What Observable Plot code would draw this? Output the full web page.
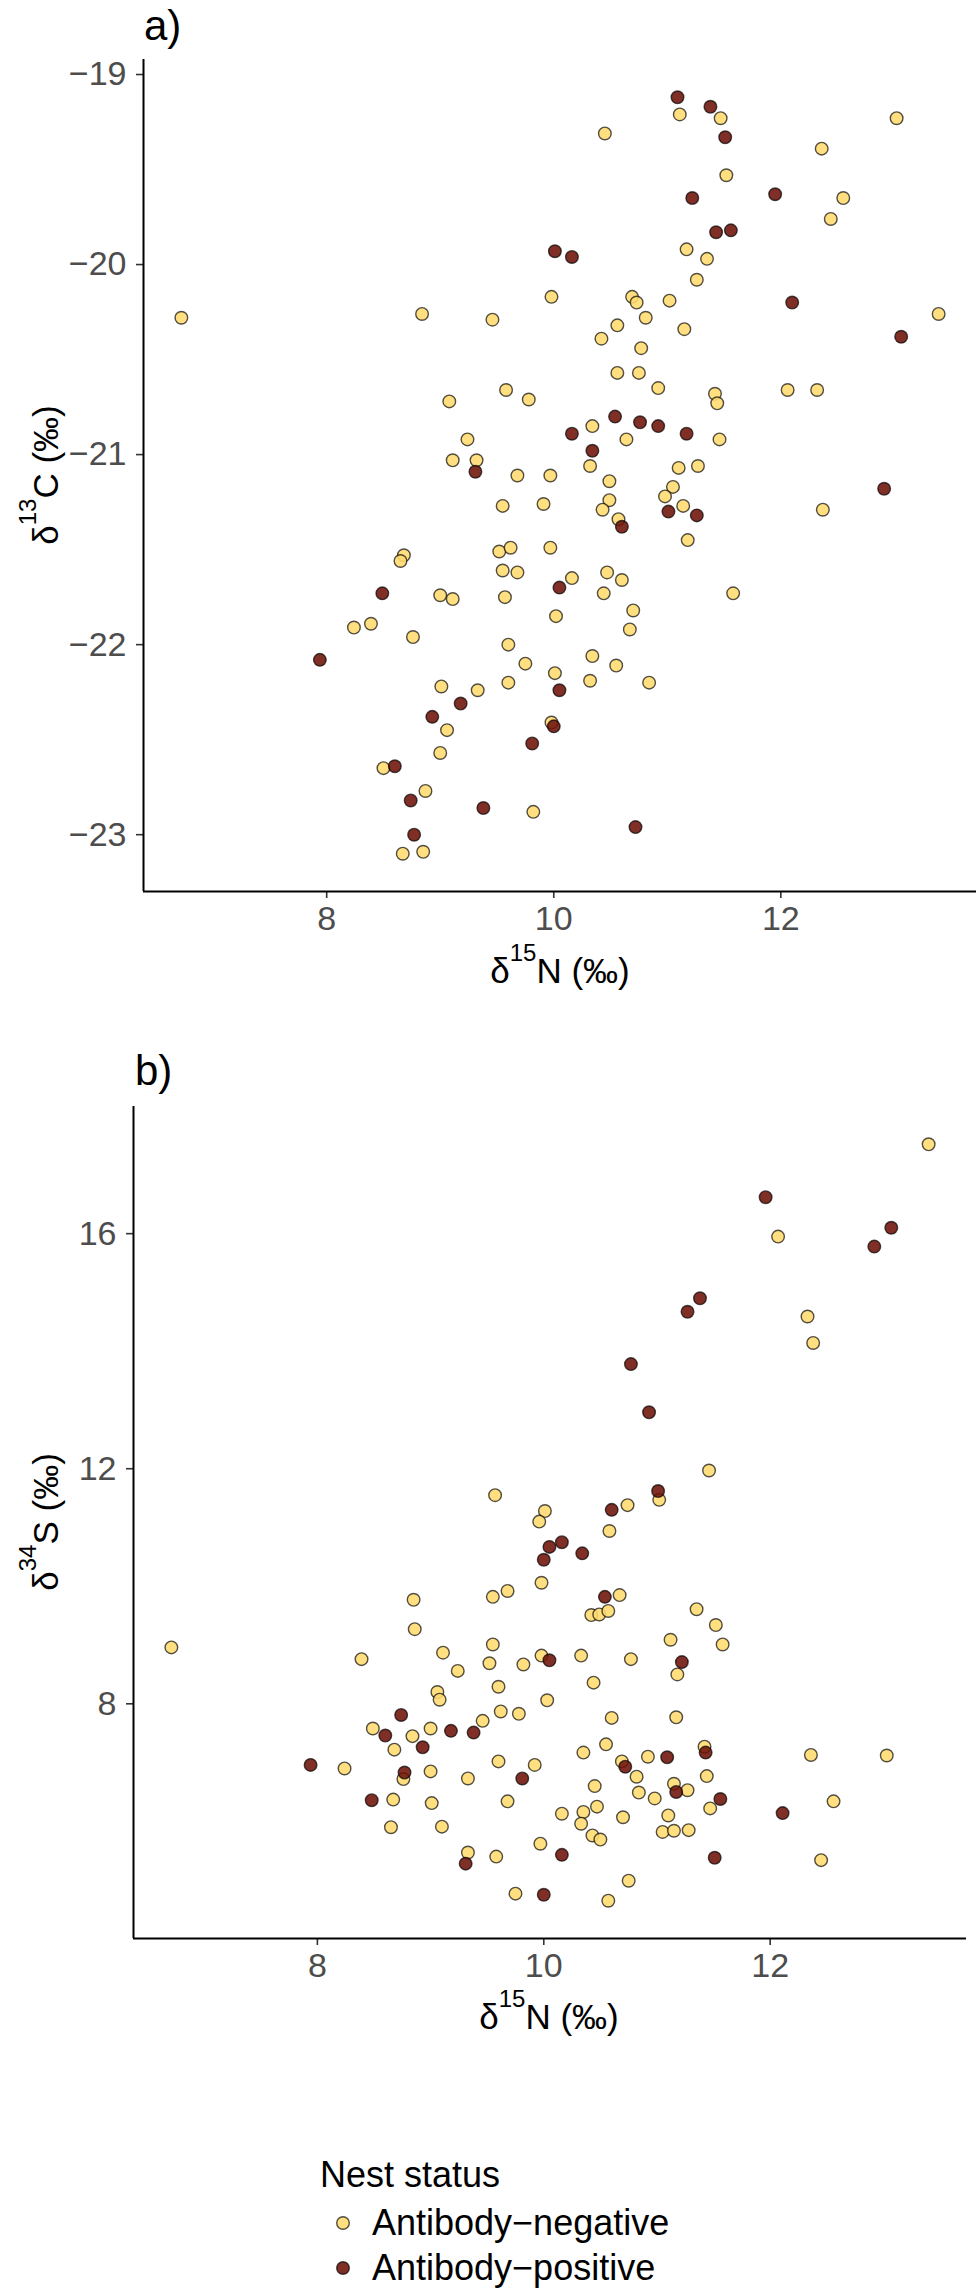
<!DOCTYPE html>
<html><head><meta charset="utf-8">
<script src="https://cdn.jsdelivr.net/npm/d3@7"></script>
<script src="https://cdn.jsdelivr.net/npm/@observablehq/plot@0.6"></script>
<style>
body{margin:0;background:#fff;}
#root{position:relative;width:979px;height:2292px;overflow:hidden;font-family:"Liberation Sans",Arial,sans-serif;}
#root svg{position:absolute;left:0;}
</style></head><body><div id="root"></div>
<script>
// ---- data ----
const statuses = ["Antibody−negative", "Antibody−positive"];
const statusColors = ["#FFDB6E", "#6E1208"];
const xTicks = [8, 10, 12];
const yTicksA = [-23, -22, -21, -20, -19];
const yTicksB = [8, 12, 16];

// panel a: [δ15N, δ13C]
const aNegative = [[6.72,-20.28],[8.84,-20.26],[9.46,-20.29],[9.98,-20.17],[9.58,-20.66],[9.78,-20.71],[9.08,-20.72],[9.24,-20.92],[9.11,-21.03],[9.32,-21.03],[9.68,-21.11],[9.97,-21.11],[9.55,-21.27],[9.91,-21.26],[8.68,-21.53],[8.65,-21.56],[9.52,-21.51],[9.62,-21.49],[9.97,-21.49],[9.55,-21.61],[9.68,-21.62],[9.00,-21.74],[9.11,-21.76],[9.57,-21.75],[10.02,-21.85],[8.24,-21.91],[8.39,-21.89],[8.76,-21.96],[9.60,-22.00],[9.75,-22.10],[10.01,-22.15],[9.60,-22.20],[9.01,-22.22],[9.33,-22.24],[9.06,-22.45],[9.98,-22.41],[9.00,-22.57],[8.50,-22.65],[8.87,-22.77],[9.82,-22.88],[8.67,-23.10],[8.85,-23.09],[11.11,-19.21],[11.47,-19.23],[13.02,-19.23],[10.45,-19.31],[12.36,-19.39],[11.52,-19.53],[12.55,-19.65],[12.44,-19.76],[11.17,-19.92],[11.35,-19.97],[11.26,-20.08],[10.69,-20.17],[10.73,-20.20],[11.02,-20.19],[13.39,-20.26],[10.81,-20.28],[10.56,-20.32],[10.42,-20.39],[11.15,-20.34],[10.77,-20.44],[10.56,-20.57],[10.75,-20.57],[10.92,-20.65],[11.42,-20.68],[11.44,-20.73],[12.06,-20.66],[12.32,-20.66],[10.34,-20.85],[10.64,-20.92],[11.46,-20.92],[10.32,-21.06],[11.10,-21.07],[11.27,-21.06],[10.49,-21.14],[11.05,-21.17],[10.98,-21.22],[11.14,-21.27],[10.49,-21.24],[10.43,-21.29],[10.57,-21.34],[12.37,-21.29],[11.18,-21.45],[10.16,-21.65],[10.47,-21.62],[10.60,-21.66],[10.44,-21.73],[11.58,-21.73],[10.70,-21.82],[10.67,-21.92],[10.34,-22.06],[10.55,-22.11],[10.32,-22.19],[10.84,-22.20]];
const aPositive = [[10.01,-19.93],[9.31,-21.09],[8.49,-21.73],[10.05,-21.70],[7.94,-22.08],[10.05,-22.24],[9.18,-22.31],[8.93,-22.38],[10.00,-22.43],[9.81,-22.52],[8.60,-22.64],[8.74,-22.82],[9.38,-22.86],[8.77,-23.00],[11.09,-19.12],[11.38,-19.17],[11.51,-19.33],[11.22,-19.65],[11.95,-19.63],[11.43,-19.83],[11.56,-19.82],[10.16,-19.96],[12.10,-20.20],[13.06,-20.38],[10.54,-20.80],[10.76,-20.83],[10.92,-20.85],[10.16,-20.89],[11.17,-20.89],[10.34,-20.98],[12.91,-21.18],[11.01,-21.30],[11.26,-21.32],[10.60,-21.38],[10.72,-22.96]];

// panel b: [δ15N, δ34S]
const bNegative = [[13.40,17.52],[12.07,15.95],[12.33,14.59],[12.38,14.14],[11.46,11.97],[9.57,11.55],[10.01,11.28],[9.96,11.10],[9.98,10.06],[8.85,9.77],[9.55,9.82],[9.68,9.92],[8.86,9.27],[6.71,8.96],[8.39,8.76],[9.55,9.01],[9.11,8.87],[9.24,8.56],[9.52,8.69],[9.82,8.67],[9.98,8.82],[9.60,8.29],[9.06,8.20],[9.08,8.07],[10.03,8.06],[8.49,7.58],[8.84,7.45],[9.00,7.58],[8.68,7.22],[9.46,7.71],[9.62,7.87],[9.78,7.83],[8.24,6.90],[8.76,6.72],[9.00,6.85],[9.33,6.73],[9.60,7.02],[9.92,6.96],[8.67,6.37],[9.01,6.31],[9.68,6.34],[8.65,5.90],[9.10,5.91],[9.97,5.62],[9.33,5.47],[9.58,5.40],[9.75,4.77],[11.02,11.47],[10.74,11.38],[10.58,10.94],[10.67,9.85],[10.42,9.51],[10.49,9.52],[10.57,9.58],[11.35,9.61],[11.52,9.34],[11.58,9.01],[11.12,9.09],[10.33,8.82],[10.77,8.76],[11.18,8.50],[10.44,8.36],[10.60,7.76],[11.17,7.77],[10.35,7.17],[10.55,7.31],[10.69,7.02],[10.92,7.10],[11.42,7.27],[12.36,7.13],[13.03,7.12],[10.82,6.76],[10.45,6.60],[10.84,6.49],[10.98,6.39],[11.15,6.64],[11.27,6.53],[11.44,6.77],[11.47,6.22],[12.56,6.34],[10.16,6.13],[10.35,6.16],[10.33,5.96],[10.47,6.25],[10.70,6.07],[11.10,6.10],[10.43,5.76],[10.50,5.69],[11.05,5.82],[11.15,5.84],[11.28,5.85],[12.45,5.34],[10.75,4.99],[10.57,4.65]];
const bPositive = [[11.96,16.62],[13.07,16.10],[12.92,15.78],[11.38,14.90],[11.27,14.67],[10.77,13.78],[10.93,12.96],[11.01,11.62],[10.05,10.67],[10.00,10.45],[10.05,8.74],[8.74,7.81],[8.60,7.46],[8.93,7.26],[9.18,7.54],[9.38,7.51],[7.94,6.96],[8.77,6.83],[9.81,6.73],[8.48,6.36],[9.31,5.28],[10.00,4.75],[10.60,11.30],[10.16,10.75],[10.34,10.56],[10.54,9.82],[11.22,8.71],[10.72,6.93],[11.09,7.09],[11.43,7.17],[11.17,6.50],[11.56,6.38],[12.11,6.14],[10.16,5.43],[11.51,5.38]];

// ---- helpers ----
function rows(neg, pos) {
  return [
    ...neg.map(([x, y]) => ({x, y, s: statuses[0]})),
    ...pos.map(([x, y]) => ({x, y, s: statuses[1]}))
  ];
}
function expand(vals) {
  const [a, b] = d3.extent(vals);
  const e = (b - a) * 0.05;
  return [a - e, b + e];
}
const FONT = "Liberation Sans, Arial, sans-serif";
const intFormat = d3.format("d");

function panel(data, yTicks, cfg) {
  const xd = expand(data.map(d => d.x));
  const yd = expand(data.map(d => d.y));
  const svg = Plot.plot({
    width: 979, height: cfg.height,
    marginTop: cfg.mt, marginBottom: cfg.mb, marginLeft: cfg.ml, marginRight: cfg.mr,
    style: {fontFamily: FONT, background: "transparent", overflow: "visible"},
    x: {domain: xd},
    y: {domain: yd},
    color: {domain: statuses, range: statusColors},
    marks: [
      Plot.axisX({ticks: xTicks, tickFormat: intFormat, tickSize: 7, tickPadding: 7, fontSize: 34, color: "#4D4D4D", stroke: "#333", strokeWidth: 1.6, label: null}),
      Plot.axisY({ticks: yTicks, tickFormat: intFormat, tickSize: 7, tickPadding: 10, fontSize: 34, color: "#4D4D4D", stroke: "#333", strokeWidth: 1.6, label: null}),
      Plot.ruleX([xd[0]], {stroke: "#000", strokeWidth: 2}),
      Plot.ruleY([yd[0]], {stroke: "#000", strokeWidth: 2}),
      Plot.dot(data, {x: "x", y: "y", fill: "s", r: 6.3, fillOpacity: 0.88, stroke: "#000", strokeOpacity: 0.68, strokeWidth: 1.4})
    ]
  });
  svg.style.top = cfg.top + "px";
  return svg;
}

const root = document.getElementById("root");
root.appendChild(panel(rows(aNegative, aPositive), yTicksA, {top: 0, height: 1000, mt: 59, mb: 109, ml: 143, mr: 3}));
root.appendChild(panel(rows(bNegative, bPositive), yTicksB, {top: 1040, height: 960, mt: 66, mb: 62, ml: 133, mr: 13}));

// ---- titles, axis titles, legend ----
const ov = d3.create("svg").attr("width", 979).attr("height", 2292)
  .style("top", "0px").style("font-family", FONT).style("pointer-events", "none");

ov.append("text").attr("x", 144).attr("y", 40).attr("font-size", 42).attr("fill", "#000").text("a)");
ov.append("text").attr("x", 135).attr("y", 1085).attr("font-size", 42).attr("fill", "#000").text("b)");

function isoTitle(g, sup, elem) {
  const t = g.append("text").attr("font-size", 35).attr("fill", "#000").attr("text-anchor", "middle");
  t.append("tspan").text("δ");
  t.append("tspan").attr("font-size", 24).attr("dy", -22).text(sup);
  t.append("tspan").attr("dy", 22).text(elem + " (‰)");
  return t;
}
isoTitle(ov.append("g").attr("transform", "translate(560,983)"), "15", "N");
isoTitle(ov.append("g").attr("transform", "translate(549,2029)"), "15", "N");
isoTitle(ov.append("g").attr("transform", "translate(58,475) rotate(-90)"), "13", "C");
isoTitle(ov.append("g").attr("transform", "translate(58,1522) rotate(-90)"), "34", "S");

ov.append("text").attr("x", 320).attr("y", 2187).attr("font-size", 36).attr("fill", "#000").text("Nest status");
statuses.forEach((s, i) => {
  ov.append("circle").attr("cx", 343).attr("cy", 2223 + i * 45).attr("r", 6.3)
    .attr("fill", statusColors[i]).attr("fill-opacity", 0.88)
    .attr("stroke", "#000").attr("stroke-opacity", 0.68).attr("stroke-width", 1.4);
  ov.append("text").attr("x", 372).attr("y", 2235 + i * 45).attr("font-size", 36).attr("fill", "#000").text(s);
});
root.appendChild(ov.node());
</script></body></html>
